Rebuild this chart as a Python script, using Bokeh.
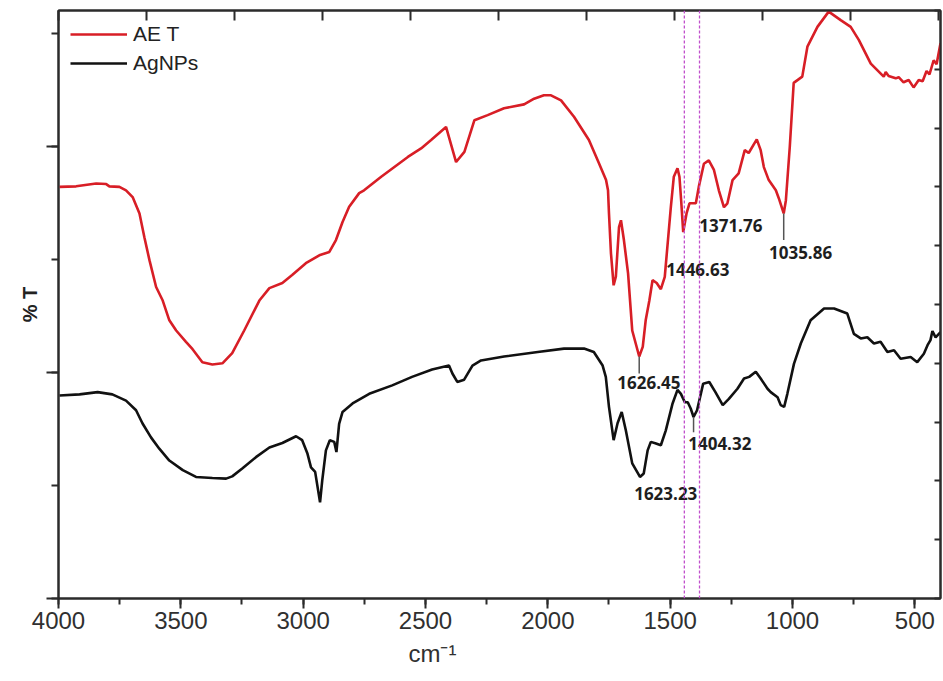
from bokeh.plotting import figure
from bokeh.models import (Range1d, LinearAxis, SingleIntervalTicker, Span, Title,
                          CustomJSTickFormatter)
from bokeh.core.properties import value
from bokeh.embed import file_html
from bokeh.resources import INLINE

# FTIR spectra: wavenumber (cm-1) and transmittance (arbitrary %T offset units)
aet_wn = [3996, 3928, 3846, 3805, 3792, 3751, 3724, 3697, 3669, 3649, 3628, 3601,
          3574, 3547, 3519, 3479, 3452, 3412, 3371, 3330, 3290, 3241, 3179, 3138,
          3085, 3045, 2989, 2934, 2893, 2866, 2839, 2812, 2771, 2751, 2681, 2572,
          2518, 2477, 2416, 2375, 2341, 2300, 2246, 2179, 2097, 2056, 2016, 1987,
          1946, 1893, 1832, 1791, 1762, 1754, 1750, 1742, 1731, 1722, 1709, 1701,
          1689, 1672, 1655, 1626.45, 1612, 1600, 1585, 1572, 1555, 1538, 1522, 1497,
          1485, 1470, 1462, 1455, 1446.63, 1433, 1421, 1395, 1383, 1362, 1342, 1321,
          1301, 1280, 1266, 1245, 1220, 1195, 1179, 1146, 1130, 1117, 1097, 1068,
          1056, 1035.86, 1027, 1011, 995, 960, 939, 898, 852, 803, 762, 729,
          680, 627, 619, 607, 578, 566, 546, 525, 505, 484, 468, 452,
          440, 423, 411, 395]
aet_t = [72.8, 72.9, 73.4, 73.3, 72.9, 72.8, 72.2, 71.0, 68.1, 63.9, 59.8, 55.1,
         52.7, 49.2, 47.4, 45.4, 44.1, 41.8, 41.4, 41.6, 43.4, 47.4, 52.7, 54.9,
         55.8, 57.2, 59.3, 60.7, 61.3, 63.4, 66.6, 69.3, 71.7, 72.2, 74.6, 78.1,
         79.6, 81.1, 83.4, 77.2, 79.0, 84.6, 85.5, 86.7, 87.4, 88.4, 89.0, 89.0,
         88.1, 85.2, 81.1, 77.0, 74.0, 72.2, 68.1, 61.1, 55.4, 56.9, 65.7, 66.9,
         63.4, 57.5, 47.4, 42.8, 44.5, 49.2, 52.7, 56.3, 55.8, 54.7, 56.9, 69.3,
         74.6, 76.1, 74.6, 70.4, 64.8, 68.1, 69.9, 69.9, 72.8, 76.9, 77.5, 75.8,
         72.2, 69.2, 69.9, 74.0, 75.2, 79.3, 78.8, 81.2, 79.3, 76.3, 74.0, 72.2,
         70.8, 68.1, 70.4, 79.9, 91.2, 92.3, 97.6, 101.1, 103.8, 102.3, 101.1, 98.8,
         94.6, 92.3, 93.1, 92.4, 92.0, 92.2, 91.3, 91.7, 90.4, 91.7, 91.5, 93.3,
         92.7, 95.2, 94.5, 98.2]

agnp_wn = [3996, 3914, 3840, 3780, 3724, 3683, 3657, 3622, 3588, 3547, 3492, 3438,
           3371, 3315, 3290, 3249, 3193, 3138, 3085, 3029, 3004, 2983, 2968, 2951,
           2931, 2922, 2907, 2891, 2873, 2864, 2853, 2839, 2798, 2730, 2636, 2555,
           2473, 2404, 2390, 2370, 2342, 2308, 2273, 2179, 2041, 1934, 1852, 1812,
           1776, 1763, 1750, 1731, 1715, 1698, 1681, 1655, 1623.23, 1608, 1592, 1579,
           1558, 1538, 1518, 1490, 1470, 1456, 1440, 1428, 1416, 1404.32, 1390, 1365,
           1340, 1315, 1285, 1260, 1225, 1198, 1177, 1150, 1130, 1102, 1089, 1061,
           1048, 1034, 1021, 994, 966, 926, 871, 830, 776, 749, 721, 694,
           667, 640, 612, 585, 558, 517, 490, 463, 448, 436, 428, 415, 395]
agnp_t = [35.9, 36.1, 36.5, 36.1, 35.0, 33.3, 31.0, 28.5, 26.5, 24.4, 22.7, 21.5,
          21.3, 21.2, 21.6, 23.0, 25.0, 26.7, 27.5, 28.7, 28.0, 25.7, 23.2, 22.4,
          17.0, 20.9, 26.2, 28.0, 27.7, 25.9, 30.9, 33.0, 34.5, 36.2, 37.7, 39.2,
          40.5, 41.2, 39.8, 38.3, 38.7, 41.2, 42.1, 42.8, 43.6, 44.2, 44.2, 43.6,
          41.2, 39.2, 33.9, 28.0, 31.0, 33.0, 29.7, 23.9, 21.5, 22.1, 26.2, 27.7,
          27.4, 27.1, 29.7, 34.5, 36.9, 36.2, 34.7, 34.7, 33.6, 32.1, 33.3, 38.0,
          38.3, 36.5, 34.2, 35.3, 37.1, 38.9, 39.2, 40.1, 38.9, 37.1, 36.5, 35.6,
          34.2, 33.9, 36.2, 41.5, 45.1, 49.2, 51.3, 51.3, 50.4, 46.8, 46.0, 46.2,
          45.1, 45.4, 43.6, 43.9, 42.4, 42.7, 41.8, 43.3, 44.8, 45.7, 47.3, 46.2, 47.1]

# Peak annotations: text, where the text sits (wavenumber, %T)
peak_text = ["1626.45", "1446.63", "1371.76", "1035.86", "1404.32", "1623.23"]
peak_text_wn = [1587, 1387, 1252, 967, 1297, 1518]
peak_text_t = [38.2, 58.2, 66.0, 61.2, 27.4, 18.6]

# Short leader lines under three of the labelled bands
leader_text = ["1626.45", "1035.86", "1404.32"]
leader_top = [42.8, 68.1, 32.1]
leader_bottom = [39.8, 63.4, 29.4]

# Reference wavenumbers marked with dotted vertical lines
marker_wn = [1442, 1380]

AXIS = "#2b2b2b"
blank = CustomJSTickFormatter(code="return ''")

p = figure(width=943, height=681, output_backend="svg", toolbar_location=None,
           x_range=Range1d(4000, 395), y_range=Range1d(0, 104),
           min_border_left=58, min_border_right=3, min_border_top=10,
           min_border_bottom=83)
p.grid.visible = False
p.background_fill_color = "white"
p.border_fill_color = "white"
p.outline_line_color = AXIS
p.outline_line_width = 2

# bottom axis
xa = p.xaxis[0]
xa.ticker = SingleIntervalTicker(interval=500, num_minor_ticks=2)
xa.axis_line_color = AXIS
xa.axis_line_width = 2
xa.major_tick_out = 10
xa.major_tick_in = 0
xa.minor_tick_out = 6
xa.minor_tick_in = 0
xa.major_tick_line_width = 2
xa.minor_tick_line_width = 2
xa.major_tick_line_color = AXIS
xa.minor_tick_line_color = AXIS
xa.major_label_text_font = "Liberation Sans"
xa.major_label_text_font_size = "24px"
xa.major_label_text_color = "#303030"
xa.major_label_standoff = 3

# left axis: ticks and title, no numbers
ya = p.yaxis[0]
ya.ticker = SingleIntervalTicker(interval=40, num_minor_ticks=2)
ya.formatter = blank
ya.axis_line_color = AXIS
ya.axis_line_width = 2
ya.major_tick_out = 12
ya.major_tick_in = 0
ya.minor_tick_out = 7
ya.minor_tick_in = 0
ya.major_tick_line_width = 2
ya.minor_tick_line_width = 2
ya.major_tick_line_color = AXIS
ya.minor_tick_line_color = AXIS
ya.major_label_standoff = 0
ya.axis_label = "% T"
ya.axis_label_text_font = "Liberation Sans"
ya.axis_label_text_font_style = "bold"
ya.axis_label_text_font_size = "20px"
ya.axis_label_text_color = "#222222"
ya.axis_label_standoff = 6

# top and right axes carry inner ticks only
p.extra_x_ranges = {"top": Range1d(0, 10.02)}
p.extra_y_ranges = {"right": Range1d(0, 10)}
top = LinearAxis(x_range_name="top", formatter=blank,
                 ticker=SingleIntervalTicker(interval=1, num_minor_ticks=0),
                 major_tick_in=10, major_tick_out=0, minor_tick_in=0, minor_tick_out=0,
                 major_tick_line_width=2, major_tick_line_color=AXIS,
                 axis_line_color=AXIS, axis_line_width=2, major_label_standoff=0)
right = LinearAxis(y_range_name="right", formatter=blank,
                   ticker=SingleIntervalTicker(interval=1, num_minor_ticks=0),
                   major_tick_in=6, major_tick_out=0, minor_tick_in=0, minor_tick_out=0,
                   major_tick_line_width=2, major_tick_line_color=AXIS,
                   axis_line_color=AXIS, axis_line_width=2, major_label_standoff=0)
p.add_layout(top, "above")
p.add_layout(right, "right")

# dotted marker lines
for wn in marker_wn:
    p.add_layout(Span(location=wn, dimension="height", line_color="#c050cc",
                      line_width=1.3, line_dash="3 2"))

# spectra
p.line(aet_wn, aet_t, line_color="#d81e26", line_width=2.6, legend_label="AE T")
p.line(agnp_wn, agnp_t, line_color="#111111", line_width=2.6, legend_label="AgNPs")

# leader ticks under labelled bands
leader_wn = [float(t) for t in leader_text]
p.segment(x0=leader_wn, y0=leader_top, x1=leader_wn, y1=leader_bottom,
          line_color="#555555", line_width=1.5)

# band labels
p.text(x=peak_text_wn, y=peak_text_t, text=peak_text,
       text_font=value("Open Sans"), text_font_style="bold",
       text_font_size="17px", text_align="center", text_baseline="middle",
       text_color="#1e1e1e")

# x-axis title, left of centre under the axis
p.add_layout(Title(text="cm\u207b\u00b9", align="left", offset=350, standoff=12,
                   text_font="Liberation Sans", text_font_size="24px",
                   text_font_style="normal", text_color="#303030"), "below")

# legend
lg = p.legend[0]
lg.location = "top_left"
lg.margin = 12
lg.padding = 0
lg.spacing = 5
lg.glyph_width = 57
lg.glyph_height = 20
lg.label_height = 20
lg.label_standoff = 6
lg.label_text_font = "Liberation Sans"
lg.label_text_font_size = "21px"
lg.label_text_color = "#222222"
lg.border_line_color = None
lg.background_fill_alpha = 0

open("out.html", "w").write(file_html(p, INLINE))
